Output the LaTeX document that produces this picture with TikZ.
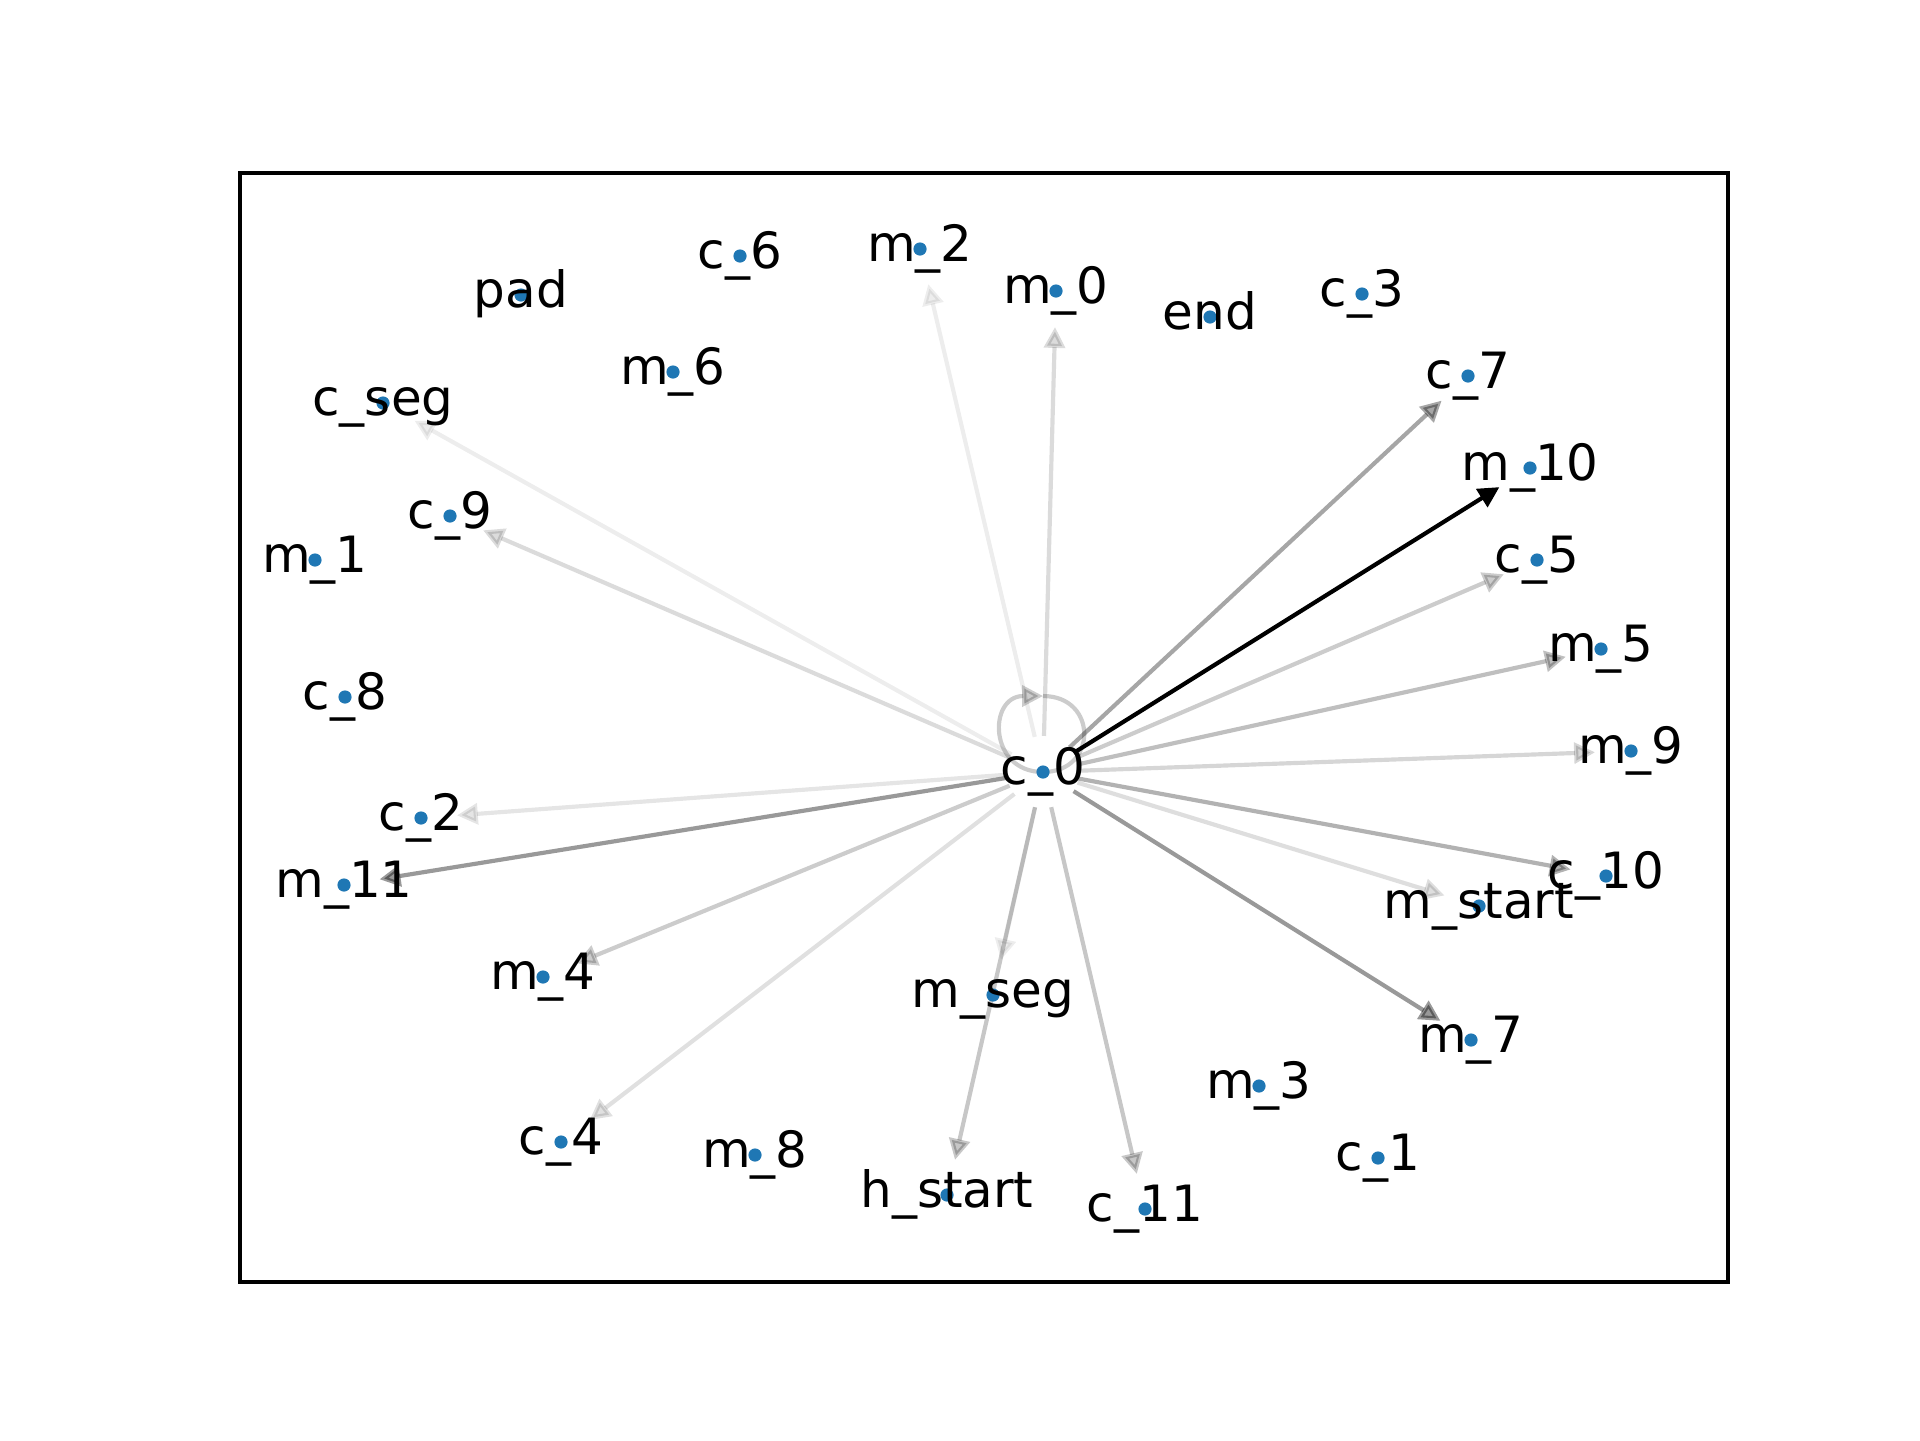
\documentclass[tikz,border=0pt]{standalone}
\usepackage{fontspec}
\setmainfont{DejaVu Sans}
\usetikzlibrary{arrows.meta,calc}
\definecolor{dotblue}{HTML}{1F77B4}
\begin{document}
\begin{tikzpicture}[x=0.24bp,y=-0.24bp,
  edge/.style={draw=black,line width=1bp,shorten <=8.66bp,shorten >=8.66bp,
    -{Triangle[length=5bp,width=5bp]}},
  loopedge/.style={draw=black,line width=1bp,-{Triangle[length=5bp,width=5bp]}},
  lbl/.style={anchor=base,inner sep=0pt,outer sep=0pt,font=\fontsize{12bp}{14bp}\selectfont},
  frame/.style={draw=black,line width=0.8bp}]
\useasboundingbox (0,0) rectangle (1920,1440);
\draw[frame] (240,173) rectangle (1728,1282);
% graph nodes: name / x / y / label
\def\nodelist{c0/1043/772/c\_0, pad/521/295/pad, c6/740/256/c\_6, m2/920/249/m\_2,
  m0/1056/291/m\_0, end/1210/317/end, c3/1362/294/c\_3, c7/1468/376/c\_7,
  m6/673/372/m\_6, cseg/383/403/c\_seg, m10/1530/468/m\_10, c9/450/516/c\_9,
  m1/315/560/m\_1, c5/1537/560/c\_5, m5/1601/649/m\_5, c8/345/697/c\_8,
  m9/1631/751/m\_9, c2/421/818/c\_2, m11/344/885/m\_11, c10/1606/876/c\_10,
  mstart/1479/906/m\_start, m4/543/977/m\_4, mseg/993/995/m\_seg,
  m7/1471/1040/m\_7, m3/1259/1086/m\_3, c4/561/1142/c\_4, m8/755/1155/m\_8,
  c1/1378/1158/c\_1, hstart/947/1195/h\_start, c11/1145/1209/c\_11}
\foreach \n/\x/\y/\t in \nodelist {\coordinate (\n) at (\x,\y);}
\coordinate (c0top) at ($(c0)+(0,-76)$);
% edges out of c_0, each with its own weight (opacity)
\foreach \n/\a in {m10/1, c7/0.35, c5/0.2, m5/0.25, m9/0.16, c10/0.3, mstart/0.13,
  m7/0.4, c11/0.22, hstart/0.22, mseg/0.07, c4/0.12, m4/0.2, m11/0.4, c2/0.1,
  c9/0.14, cseg/0.07, m2/0.07, m0/0.14}
  {\path[edge,draw opacity=\a,fill opacity=\a] (c0) -- (\n);}
% self loop on c_0
\path[loopedge,draw opacity=0.2,fill opacity=0.2] (c0top)
  .. controls ($(c0top)+(55,0)$) and ($(c0)+(55,0)$) .. (c0)
  .. controls ($(c0)+(-55,0)$) and ($(c0top)+(-55,0)$) .. (c0top);
% node markers
\foreach \n/\x/\y/\t in \nodelist {\fill[dotblue] (\n) circle (6.6);}
% node labels
\foreach \n/\x/\y/\t in \nodelist {\node[lbl] (\n-lbl) at ($(\n)+(0,12.5)$) {\t};}
\end{tikzpicture}
\end{document}
